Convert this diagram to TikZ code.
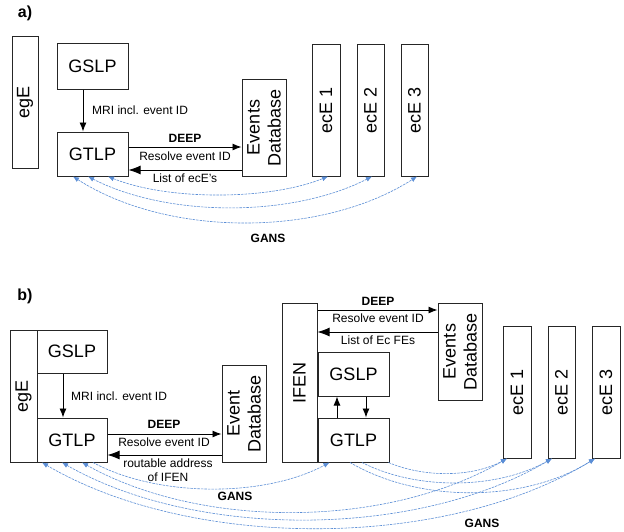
\documentclass[tikz,border=0pt]{standalone}
\usepackage{fontspec}
\setmainfont{Liberation Sans}
\usetikzlibrary{arrows.meta,calc}
\definecolor{gans}{RGB}{91,142,214}
\begin{document}
\begin{tikzpicture}[x=1pt,y=-1pt,
 >={Latex[length=6pt,width=5pt]},
 box/.style={draw=black!85,line width=1pt,inner sep=0pt},
 rot/.style={rotate=90,align=center,inner sep=0pt,font=\fontsize{18}{21}\selectfont},
 btxt/.style={inner sep=0pt,font=\fontsize{18}{21}\selectfont},
 lbl/.style={font=\fontsize{12}{14}\selectfont,inner sep=0pt,align=center},
 blbl/.style={font=\bfseries\fontsize{12}{14}\selectfont,inner sep=0pt},
 ttl/.style={font=\bfseries\fontsize{16}{18}\selectfont,inner sep=0pt},
 arr/.style={black,line width=0.9pt,-{Latex[length=9pt,width=7pt]}},
 barr/.style={black,line width=0.9pt,-{Latex[length=12pt,width=9pt]}},
 gline/.style={gans,line width=0.6pt,dash pattern=on 2.5pt off 1pt}
]
\fill[white] (0,0) rectangle (624,531);
\useasboundingbox (0,0) rectangle (624,531);

% ---------------- a) ----------------
\node[ttl] (ta) at (25,13) {a)};
\node[box,minimum width=26pt,minimum height=132pt] (egEa) at (25,102) {};
\node[rot] (egEat) at (egEa) {egE};
\node[box,btxt,minimum width=71pt,minimum height=46pt] (GSLPa) at (92.5,66) {GSLP};
\node[box,btxt,minimum width=71pt,minimum height=44pt] (GTLPa) at (92.5,154) {GTLP};
\node[box,minimum width=44pt,minimum height=97pt] (DBa) at (264,127.5) {};
\node[rot] (DBat) at (DBa) {Events\\Database};
\node[box,minimum width=28pt,minimum height=132pt] (ecE1a) at (326,110) {};
\node[rot] (ecE1at) at (ecE1a) {ecE 1};
\node[box,minimum width=27pt,minimum height=132pt] (ecE2a) at (370.5,110) {};
\node[rot] (ecE2at) at (ecE2a) {ecE 2};
\node[box,minimum width=27pt,minimum height=132pt] (ecE3a) at (414.5,110) {};
\node[rot] (ecE3at) at (ecE3a) {ecE 3};

\draw[arr] ([xshift=-9.5pt]GSLPa.south) -- ([xshift=-9.5pt]GTLPa.north);
\node[lbl,anchor=west] (mria) at (92,110) {MRI incl. event ID};
\draw[arr] ([yshift=7pt]GTLPa.east) -- ([yshift=7pt]GTLPa.east -| DBa.west);
\draw[barr] ([yshift=-16pt]GTLPa.east -| DBa.west) -- ([yshift=-16pt]GTLPa.east);
\node[blbl] (deepa) at (185,138) {DEEP};
\node[lbl] (resa) at (185,156) {Resolve event ID};
\node[lbl] (lista) at (185,178) {List of ecE's};

\draw[gline,<->] ([xshift=15.5pt]GTLPa.south) .. controls +(60,24) and +(-60,24) .. ([xshift=2pt]ecE1a.south);
\draw[gline,<->] ([xshift=-4.5pt]GTLPa.south) .. controls +(80,41) and +(-80,41) .. ([xshift=1.5pt]ecE2a.south);
\draw[gline,<->] ([xshift=-19.5pt]GTLPa.south) .. controls +(95,61) and +(-95,61) .. ([xshift=2.5pt]ecE3a.south);
\node[blbl] (gansa) at (268,238) {GANS};

% ---------------- b) ----------------
\node[ttl] (tb) at (25,296) {b)};
\node[box,minimum width=27pt,minimum height=132pt] (egEb) at (23.5,396) {};
\node[rot] (egEbt) at (egEb) {egE};
\node[box,btxt,minimum width=70pt,minimum height=43pt] (GSLPb) at (72,351.5) {GSLP};
\node[box,btxt,minimum width=70pt,minimum height=44pt] (GTLPb) at (72,440) {GTLP};
\node[box,minimum width=44pt,minimum height=97pt] (EDBb) at (244,413.5) {};
\node[rot] (EDBbt) at (EDBb) {Event\\Database};

\draw[arr] ([xshift=-9pt]GSLPb.south) -- ([xshift=-9pt]GTLPb.north);
\node[lbl,anchor=west] (mrib) at (71,396) {MRI incl. event ID};
\draw[arr] ([yshift=6pt]GTLPb.east) -- ([yshift=6pt]GTLPb.east -| EDBb.west);
\draw[barr] ([yshift=-15pt]GTLPb.east -| EDBb.west) -- ([yshift=-15pt]GTLPb.east);
\node[blbl] (deepb) at (164,424) {DEEP};
\node[lbl] (resb) at (164,442) {Resolve event ID};
\node[lbl] (routb) at (168,470) {routable address\\of IFEN};

\node[box,minimum width=35pt,minimum height=159pt] (IFEN) at (299.5,382.5) {};
\node[rot] (IFENt) at (IFEN) {IFEN};
\node[box,minimum width=44pt,minimum height=97pt] (DBc) at (460,351.5) {};
\node[rot] (DBct) at (DBc) {Events\\Database};
\node[box,btxt,minimum width=71pt,minimum height=44pt] (GSLPc) at (353.5,374) {GSLP};
\node[box,btxt,minimum width=71pt,minimum height=44pt] (GTLPc) at (353.5,440) {GTLP};

\draw[arr] ([yshift=72.5pt]IFEN.east) -- ([yshift=72.5pt]IFEN.east -| DBc.west);
\draw[barr] ([yshift=50.5pt]IFEN.east -| DBc.west) -- ([yshift=50.5pt]IFEN.east);
\node[blbl] (deepc) at (378,301) {DEEP};
\node[lbl] (resc) at (378,318) {Resolve event ID};
\node[lbl] (listc) at (378,340) {List of Ec FEs};
\draw[arr] ([xshift=-16.5pt]GTLPc.north) -- ([xshift=-16.5pt]GSLPc.south);
\draw[arr] ([xshift=12.5pt]GSLPc.south) -- ([xshift=12.5pt]GTLPc.north);

\node[box,minimum width=28pt,minimum height=132pt] (ecE1b) at (517,392) {};
\node[rot] (ecE1bt) at (ecE1b) {ecE 1};
\node[box,minimum width=27pt,minimum height=132pt] (ecE2b) at (561.5,392) {};
\node[rot] (ecE2bt) at (ecE2b) {ecE 2};
\node[box,minimum width=28pt,minimum height=132pt] (ecE3b) at (606,392) {};
\node[rot] (ecE3bt) at (ecE3b) {ecE 3};

\draw[gline,->] ([xshift=21pt]GTLPb.south) .. controls +(65,35) and +(-65,35) .. ([xshift=-24pt]GTLPc.south);
\draw[gline,<->] ([xshift=10pt]GTLPb.south) .. controls +(120,67) and +(-120,70) .. ([xshift=-10pt]ecE1b.south);
\draw[gline,<->] ([xshift=-10pt]GTLPb.south) .. controls +(135,77) and +(-135,80) .. ([xshift=-9.5pt]ecE2b.south);
\draw[gline,<->] ([xshift=-30pt]GTLPb.south) .. controls +(150,88) and +(-150,92) .. ([xshift=-11pt]ecE3b.south);
\draw[gline,->] ([xshift=35pt]GTLPc.south) .. controls +(35,15) and +(-35,19) .. ([xshift=-10pt]ecE1b.south);
\draw[gline,->] ([xshift=8.5pt]GTLPc.south) .. controls +(55,28) and +(-55,31) .. ([xshift=-9.5pt]ecE2b.south);
\draw[gline,->] ([xshift=-3.5pt]GTLPc.south) .. controls +(70,41) and +(-70,44) .. ([xshift=-11pt]ecE3b.south);
\node[blbl] (gansb) at (235,496) {GANS};
\node[blbl] (gansc) at (482,523) {GANS};
\end{tikzpicture}
\end{document}
